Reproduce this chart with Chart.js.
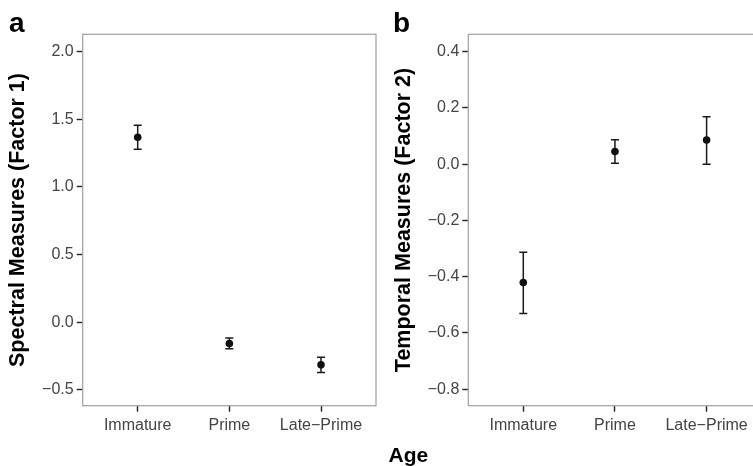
<!DOCTYPE html>
<html>
<head>
<meta charset="utf-8">
<script src="https://cdn.jsdelivr.net/npm/chart.js@4.4.1/dist/chart.umd.min.js"></script>
<style>
  html, body { margin: 0; padding: 0; background: #fff; overflow: hidden; width: 753px; height: 466px; }
  #wrap { position: relative; width: 753px; height: 466px; overflow: hidden; }
  #ca { position: absolute; left: 0; top: 0; }
  #cb { position: absolute; left: 380px; top: 0; }
</style>
</head>
<body>
<div id="wrap">
  <canvas id="ca" width="380" height="466"></canvas>
  <canvas id="cb" width="395" height="466"></canvas>
</div>
<script>
// ---- data ----
const categories = ['Immature', 'Prime', 'Late\u2212Prime'];

const spectralMean = [1.368, -0.158, -0.316];
const spectralLow  = [1.279, -0.197, -0.373];
const spectralHigh = [1.457, -0.118, -0.259];

const temporalMean = [-0.421, 0.045, 0.086];
const temporalLow  = [-0.531, 0.003, 0.000];
const temporalHigh = [-0.313, 0.087, 0.169];

const spectralTicks = [-0.5, 0.0, 0.5, 1.0, 1.5, 2.0];
const temporalTicks = [-0.8, -0.6, -0.4, -0.2, 0.0, 0.2, 0.4];

const FONT = '"Liberation Sans", Arial, Helvetica, sans-serif';

function fmtTick(v) {
  const s = Math.abs(v) < 1e-9 ? '0.0' : v.toFixed(1);
  return s.replace('-', '\u2212');
}

const panelPlugin = {
  id: 'panelExtras',
  beforeDatasetsDraw(chart) {
    const o = chart.options.plugins.panelExtras;
    const ctx = chart.ctx;
    const xs = chart.scales.x, ys = chart.scales.y;
    ctx.save();
    ctx.strokeStyle = '#1a1a1a';
    ctx.lineWidth = 1.5;
    for (let i = 0; i < o.low.length; i++) {
      const px = xs.getPixelForValue(i);
      const y1 = ys.getPixelForValue(o.low[i]);
      const y2 = ys.getPixelForValue(o.high[i]);
      ctx.beginPath();
      ctx.moveTo(px, y1); ctx.lineTo(px, y2);
      ctx.moveTo(px - 4, y1); ctx.lineTo(px + 4, y1);
      ctx.moveTo(px - 4, y2); ctx.lineTo(px + 4, y2);
      ctx.stroke();
    }
    ctx.restore();
  },
  afterDraw(chart) {
    const o = chart.options.plugins.panelExtras;
    const ctx = chart.ctx;
    const a = chart.chartArea;
    ctx.save();
    ctx.strokeStyle = '#a6a6a6';
    ctx.lineWidth = 1.3;
    ctx.strokeRect(a.left, a.top, a.right - a.left, a.bottom - a.top);
    ctx.fillStyle = '#000';
    ctx.textBaseline = 'alphabetic';
    ctx.textAlign = 'left';
    ctx.font = 'bold 28px ' + FONT;
    ctx.fillText(o.letter, o.letterX, 31.5);
    if (o.xTitle) {
      ctx.font = 'bold 21px ' + FONT;
      ctx.textAlign = 'center';
      ctx.fillText(o.xTitle, o.xTitleX, 462);
    }
    ctx.restore();
  }
};

function makeChart(id, mean, low, high, ticks, ymin, ymax, yTitle, yAxisW, padRight, titlePad, letter, letterX, xTitle, xTitleX) {
  return new Chart(document.getElementById(id), {
    type: 'scatter',
    data: {
      datasets: [{
        data: mean.map((v, i) => ({ x: i, y: v })),
        backgroundColor: '#111',
        borderColor: '#111',
        borderWidth: 0,
        pointRadius: 3.8,
        pointHoverRadius: 3.8,
        showLine: false
      }]
    },
    options: {
      responsive: false,
      animation: false,
      devicePixelRatio: 1,
      layout: { padding: { left: 0, top: 34.3, right: padRight, bottom: 0 } },
      plugins: {
        legend: { display: false },
        tooltip: { enabled: false },
        panelExtras: { low: low, high: high, letter: letter, letterX: letterX, xTitle: xTitle, xTitleX: xTitleX }
      },
      scales: {
        x: {
          type: 'linear',
          min: -0.6,
          max: 2.6,
          afterBuildTicks(s) { s.ticks = categories.map((c, i) => ({ value: i })); },
          afterFit(s) { s.height = 60.3; },
          border: { display: false },
          grid: { drawOnChartArea: false, drawTicks: true, tickLength: 6, tickColor: '#222', tickWidth: 1.4 },
          ticks: {
            color: '#444',
            font: { family: FONT, size: 16 },
            padding: 4,
            maxRotation: 0,
            autoSkip: false,
            callback: (v) => categories[v]
          }
        },
        y: {
          type: 'linear',
          min: ymin,
          max: ymax,
          afterBuildTicks(s) { s.ticks = ticks.map(v => ({ value: v })); },
          afterFit(s) { s.width = yAxisW; },
          border: { display: false },
          grid: { drawOnChartArea: false, drawTicks: true, tickLength: 6, tickColor: '#222', tickWidth: 1.4 },
          ticks: {
            color: '#444',
            font: { family: FONT, size: 16 },
            padding: 3,
            autoSkip: false,
            callback: (v) => fmtTick(v)
          },
          title: {
            display: true,
            text: yTitle,
            color: '#000',
            font: { family: FONT, size: 21.5, weight: 'bold' },
            padding: { top: titlePad, bottom: 0 }
          }
        }
      }
    },
    plugins: [panelPlugin]
  });
}

makeChart('ca', spectralMean, spectralLow, spectralHigh, spectralTicks, -0.618, 2.129,
  'Spectral Measures (Factor 1)', 82.7, 4, 5.2, 'a', 9, null, 0);
makeChart('cb', temporalMean, temporalLow, temporalHigh, temporalTicks, -0.859, 0.462,
  'Temporal Measures (Factor 2)', 88.3, 13.4, 11.6, 'b', 13, 'Age', 28.3);
</script>
</body>
</html>
